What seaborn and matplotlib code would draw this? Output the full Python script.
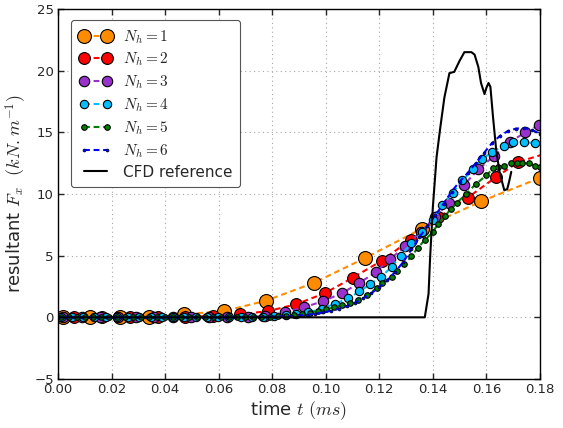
import numpy as np
import pandas as pd
import matplotlib
matplotlib.use("Agg")
import matplotlib.pyplot as plt
import seaborn as sns

# ---------------- data ----------------
t1 = [0.002, 0.012, 0.023, 0.034, 0.047, 0.062, 0.0777, 0.0956, 0.1146, 0.136, 0.158, 0.180]
f1 = [0.0, 0.0, 0.0, 0.0, 0.25, 0.5, 1.35, 2.8, 4.8, 7.2, 9.4, 11.3]

t2 = [0.006, 0.0164, 0.0268, 0.0372, 0.0476, 0.058, 0.068, 0.0784, 0.0888, 0.0996,
      0.110, 0.121, 0.1317, 0.142, 0.153, 0.1635, 0.172, 0.1825]
f2 = [0.0, 0.0, 0.0, 0.0, 0.02, 0.12, 0.25, 0.5, 1.05, 1.95,
      3.2, 4.6, 6.3, 8.1, 9.7, 11.35, 12.6, 13.3]

t3 = [0.002, 0.0088, 0.0156, 0.0224, 0.0292, 0.036, 0.0428, 0.0496, 0.0564, 0.063,
      0.071, 0.0775, 0.0847, 0.0917, 0.0989, 0.106, 0.1123, 0.1186, 0.124, 0.1295,
      0.1354, 0.1407, 0.146, 0.1515, 0.157, 0.163, 0.1687, 0.1746, 0.1797]
f3 = [0.0, 0.0, 0.0, 0.0, 0.0, 0.0, 0.0, 0.0, 0.0, 0.01,
      0.03, 0.1, 0.4, 0.8, 1.3, 1.95, 2.75, 3.65, 4.7, 5.75,
      6.9, 8.1, 9.3, 10.7, 12.0, 13.1, 14.2, 15.0, 15.6]

t4 = [0.001, 0.0052, 0.0094, 0.0136, 0.0178, 0.022, 0.0262, 0.0304, 0.0346, 0.0388,
      0.043, 0.0472, 0.0514, 0.0556, 0.0598, 0.064, 0.0682, 0.0724, 0.0766, 0.0808,
      0.085, 0.089, 0.0935, 0.0985, 0.1035, 0.1085, 0.1126, 0.1167, 0.1208, 0.1247,
      0.128, 0.132, 0.136, 0.140, 0.1436, 0.1474, 0.151, 0.155, 0.1585, 0.162,
      0.1665, 0.170, 0.174, 0.178]
f4 = [0.0, 0.0, 0.0, 0.0, 0.0, 0.0, 0.0, 0.0, 0.0, 0.0,
      0.0, 0.0, 0.0, 0.0, 0.0, 0.0, 0.0, 0.02, 0.05, 0.1,
      0.15, 0.25, 0.4, 0.7, 1.1, 1.55, 2.1, 2.7, 3.3, 4.1,
      5.0, 6.0, 6.9, 7.9, 9.1, 10.1, 11.1, 12.0, 12.8, 13.4,
      13.9, 14.2, 14.25, 14.1]

t5 = [0.001, 0.004, 0.007, 0.010, 0.013, 0.016, 0.019, 0.022, 0.025, 0.028,
      0.031, 0.034, 0.037, 0.040, 0.043, 0.046, 0.049, 0.052, 0.055, 0.058,
      0.061, 0.064, 0.067, 0.070, 0.073, 0.076, 0.079, 0.082, 0.085, 0.088,
      0.091, 0.094, 0.097, 0.100, 0.103, 0.106, 0.109, 0.112, 0.1155, 0.119,
      0.1212, 0.1246, 0.1268, 0.1294, 0.132, 0.1343, 0.1369, 0.140, 0.142, 0.1445,
      0.1468, 0.149, 0.1525, 0.156, 0.160, 0.1626, 0.1645, 0.1667, 0.1693, 0.1716,
      0.1734, 0.176, 0.178, 0.180]
f5 = [0.0, 0.0, 0.0, 0.0, 0.0, 0.0, 0.0, 0.0, 0.0, 0.0,
      0.0, 0.0, 0.0, 0.0, 0.0, 0.0, 0.0, 0.0, 0.0, 0.0,
      0.0, 0.0, 0.01, 0.02, 0.03, 0.04, 0.06, 0.09, 0.13, 0.2,
      0.28, 0.38, 0.5, 0.64, 0.8, 0.98, 1.18, 1.42, 1.85, 2.35,
      2.8, 3.25, 3.75, 4.3, 4.95, 5.6, 6.25, 6.9, 7.6, 8.2,
      8.8, 9.3, 10.0, 10.8, 11.5, 12.1, 12.2, 12.3, 12.5, 12.5,
      12.5, 12.5, 12.3, 12.2]

t6 = [0.000, 0.003, 0.006, 0.009, 0.012, 0.015, 0.018, 0.021, 0.024, 0.027,
      0.030, 0.033, 0.036, 0.039, 0.042, 0.045, 0.048, 0.051, 0.054, 0.057,
      0.060, 0.063, 0.066, 0.069, 0.072, 0.075, 0.078, 0.081, 0.084, 0.087,
      0.090, 0.093, 0.096, 0.099, 0.102, 0.105, 0.108, 0.111, 0.114, 0.117,
      0.120, 0.123, 0.126, 0.129, 0.132, 0.135, 0.138, 0.141, 0.144, 0.147,
      0.150, 0.153, 0.156, 0.159, 0.162, 0.165, 0.168, 0.171, 0.174, 0.177,
      0.180]
f6 = [0.0, 0.0, 0.0, 0.0, 0.0, 0.0, 0.0, 0.0, 0.0, 0.0,
      0.0, 0.0, 0.0, 0.0, 0.0, 0.0, 0.0, 0.0, 0.0, 0.0,
      0.0, 0.0, 0.01, 0.01, 0.02, 0.03, 0.04, 0.06, 0.08, 0.11,
      0.15, 0.21, 0.29, 0.4, 0.53, 0.7, 0.92, 1.2, 1.55, 1.95,
      2.45, 3.0, 3.7, 4.5, 5.5, 6.5, 7.4, 8.3, 9.2, 10.2,
      11.0, 11.7, 12.5, 13.3, 14.1, 14.7, 15.1, 15.3, 15.35, 15.2,
      14.9]

t_cfd = [0.0, 0.137, 0.1384, 0.139, 0.140, 0.1414, 0.1428, 0.1443, 0.1462, 0.148,
         0.150, 0.1518, 0.1544, 0.1556, 0.157, 0.158, 0.1593, 0.160, 0.1608, 0.1615,
         0.1625, 0.1637, 0.165, 0.1667, 0.1678, 0.1686, 0.1693]
f_cfd = [0.0, 0.0, 1.9, 4.9, 8.9, 13.0, 15.4, 17.8, 19.8, 19.9,
         20.8, 21.5, 21.5, 21.3, 20.3, 19.0, 18.1, 18.6, 19.0, 18.7,
         16.2, 13.5, 11.7, 10.3, 10.4, 11.1, 11.8]

labels = [r"$N_h=1$", r"$N_h=2$", r"$N_h=3$", r"$N_h=4$", r"$N_h=5$", r"$N_h=6$"]
colors = ["darkorange", "red", "darkorchid", "deepskyblue", "green", "blue"]
msizes = [10, 8.5, 7.5, 6, 4, 2.2]

# ---------------- style ----------------
sns.set_style("white")
plt.rcParams.update({
    "font.family": ["DejaVu Sans"],
    "mathtext.fontset": "cm",
    "axes.edgecolor": "black",
    "axes.linewidth": 1.0,
    "xtick.direction": "in",
    "ytick.direction": "in",
    "xtick.top": True,
    "ytick.right": True,
    "xtick.major.size": 4,
    "ytick.major.size": 4,
    "xtick.bottom": True,
    "ytick.left": True,
})

fig = plt.figure(figsize=(5.63, 4.28), dpi=100)
ax = fig.add_axes([0.103, 0.1145, 0.856, 0.8645])

series = [(t1, f1), (t2, f2), (t3, f3), (t4, f4), (t5, f5), (t6, f6)]
for (tt, ff), lab, c, ms in zip(series, labels, colors, msizes):
    df = pd.DataFrame({"t": tt, "F": ff})
    sns.lineplot(data=df, x="t", y="F", ax=ax, color=c, linewidth=1.5,
                 dashes=False, linestyle=(0, (2.8, 1.8)),
                 marker="o", markersize=ms, markeredgecolor="black",
                 markeredgewidth=0.8 if ms > 3 else 0.4, label=lab,
                 sort=False, estimator=None)

dfc = pd.DataFrame({"t": t_cfd, "F": f_cfd})
sns.lineplot(data=dfc, x="t", y="F", ax=ax, color="black", linewidth=1.5,
             label="CFD reference", sort=False, estimator=None)

ax.set_xlim(0.0, 0.18)
ax.set_ylim(-5, 25)
ax.set_xticks([0.00, 0.02, 0.04, 0.06, 0.08, 0.10, 0.12, 0.14, 0.16, 0.18])
ax.set_xticklabels(["0.00", "0.02", "0.04", "0.06", "0.08", "0.10", "0.12", "0.14", "0.16", "0.18"])
ax.set_yticks([-5, 0, 5, 10, 15, 20, 25])
ax.tick_params(labelsize=9.5, width=1, pad=3)
ax.grid(True, linestyle=(0, (1, 3)), color="#a8a8a8", linewidth=0.8)
for s in ax.spines.values():
    s.set_visible(True)
    s.set_color("black")

ax.set_xlabel(r"time $t$ $(ms)$", fontsize=13, labelpad=2)
ax.set_ylabel(r"resultant $F_x$  $(kN.m^{-1})$", fontsize=13, labelpad=4)

leg = ax.legend(loc="upper left", fontsize=11, numpoints=2, frameon=True,
                fancybox=True, edgecolor="#555555", framealpha=1.0,
                borderpad=0.5, labelspacing=0.34, handlelength=2.1,
                handletextpad=0.75, bbox_to_anchor=(0.012, 0.99))
leg.get_frame().set_linewidth(0.8)

fig.savefig("out.png", dpi=100)
